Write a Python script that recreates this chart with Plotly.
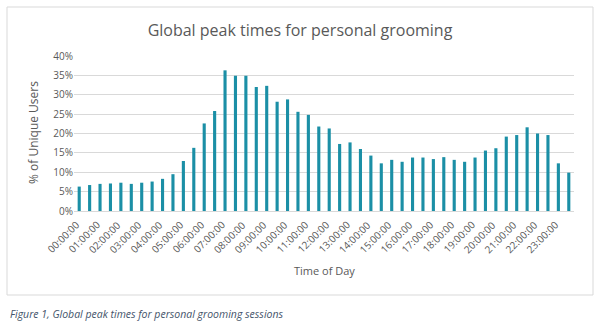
import plotly.graph_objects as go

categories = [
    "00:00:00", "00:30:00", "01:00:00", "01:30:00", "02:00:00", "02:30:00",
    "03:00:00", "03:30:00", "04:00:00", "04:30:00", "05:00:00", "05:30:00",
    "06:00:00", "06:30:00", "07:00:00", "07:30:00", "08:00:00", "08:30:00",
    "09:00:00", "09:30:00", "10:00:00", "10:30:00", "11:00:00", "11:30:00",
    "12:00:00", "12:30:00", "13:00:00", "13:30:00", "14:00:00", "14:30:00",
    "15:00:00", "15:30:00", "16:00:00", "16:30:00", "17:00:00", "17:30:00",
    "18:00:00", "18:30:00", "19:00:00", "19:30:00", "20:00:00", "20:30:00",
    "21:00:00", "21:30:00", "22:00:00", "22:30:00", "23:00:00", "23:30:00",
]
values = [
    6.3, 6.7, 7.0, 7.1, 7.3, 7.0, 7.3, 7.6, 8.3, 9.5, 12.9, 16.3,
    22.6, 25.8, 36.3, 34.9, 34.9, 32.0, 32.3, 28.2, 28.8, 25.6, 24.8, 21.8,
    21.3, 17.3, 17.7, 16.0, 14.3, 12.3, 13.2, 12.7, 13.8, 13.8, 13.4, 13.9,
    13.2, 12.7, 13.8, 15.6, 16.2, 19.2, 19.6, 21.6, 20.0, 19.6, 12.3, 9.9,
]
tick_labels = categories[::2]

W, H = 600, 329
L, R, T, B = 74, 26, 56, 118
pw, ph = W - L - R, H - T - B

def px_x(p):
    return (p - L) / pw

def px_y(p):
    return (H - B - p) / ph

FONT = "Open Sans"
GRAY = "#595959"

fig = go.Figure(go.Bar(
    x=categories, y=values, marker_color="#1b8fa6",
    marker_line_width=0, hoverinfo="x+y",
))

fig.update_layout(
    width=W, height=H, margin=dict(l=L, r=R, t=T, b=B),
    paper_bgcolor="white", plot_bgcolor="white",
    bargap=0.7, showlegend=False,
    font=dict(family=FONT, color=GRAY),
    title=dict(text="Global peak times for personal grooming",
               x=0.5, xref="container", xanchor="center",
               y=1 - 30 / H, yref="container", yanchor="middle",
               font=dict(size=16, color=GRAY, family=FONT)),
)
fig.update_xaxes(
    type="category", categoryorder="array", categoryarray=categories,
    range=[-0.5, len(categories) - 0.5], autorange=False,
    showticklabels=False,
    showline=True, linecolor="#d9d9d9", linewidth=1, ticks="",
    showgrid=False, fixedrange=True,
)
fig.update_yaxes(
    range=[0, 40], dtick=5, ticksuffix="%", tickfont=dict(size=10, color=GRAY, family=FONT),
    showgrid=True, gridcolor="#d9d9d9", gridwidth=1, zeroline=False,
    showline=False, ticks="", fixedrange=True,
)

for lab in tick_labels:
    fig.add_annotation(text=lab, xref="x", yref="paper", x=lab, y=px_y(216),
                       xanchor="right", yanchor="top", xshift=4, textangle=-45,
                       showarrow=False, borderpad=0,
                       font=dict(size=10, color=GRAY, family=FONT))

fig.add_annotation(text="Time of Day", xref="paper", yref="paper",
                   x=0.5, y=px_y(270), xanchor="center", yanchor="middle",
                   showarrow=False, font=dict(size=11, color=GRAY, family=FONT))
fig.add_annotation(text="% of Unique Users", xref="paper", yref="paper",
                   x=px_x(33), y=px_y(133), xanchor="center", yanchor="middle",
                   textangle=-90, showarrow=False,
                   font=dict(size=12, color=GRAY, family=FONT))
fig.add_annotation(text="<i>Figure 1, Global peak times for personal grooming sessions</i>",
                   xref="paper", yref="paper", x=px_x(8), y=px_y(314),
                   xanchor="left", yanchor="middle", showarrow=False,
                   font=dict(size=10.5, color="#44546a", family=FONT))
fig.add_shape(type="rect", xref="paper", yref="paper",
              x0=px_x(7), x1=px_x(593), y0=px_y(295), y1=px_y(7),
              line=dict(color="#d9d9d9", width=1), fillcolor="rgba(0,0,0,0)", layer="below")

fig.write_html("out.html")
